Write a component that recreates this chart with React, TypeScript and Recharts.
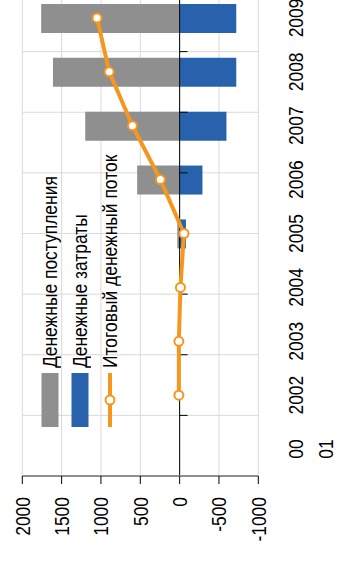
import React from 'react';
import {
  ComposedChart,
  Bar,
  Line,
  XAxis,
  YAxis,
  CartesianGrid,
  ReferenceLine,
  Legend,
} from 'recharts';

// Years on the category axis (the first slot carries a two-line label)
const categories = ['00\n01', '2002', '2003', '2004', '2005', '2006', '2007', '2008', '2009'];
// Cash inflows, outflows and resulting net cash flow per year
const inflows = [0, 0, 0, 0, 30, 540, 1200, 1610, 1760];
const outflows = [0, 0, 0, 0, -80, -290, -595, -720, -720];
const netFlow = [null, 10, 10, -10, -55, 245, 600, 895, 1050];
const valueTicks = [-1000, -500, 0, 500, 1000, 1500, 2000];
const seriesNames = ['Денежные поступления', 'Денежные затраты', 'Итоговый денежный поток'];

const data = categories.map((label, i) => ({
  label,
  inflow: inflows[i],
  outflow: outflows[i],
  net: netFlow[i],
}));

// Category boundaries, used for grid lines and tick marks on the zero line
const boundaries = [...categories.map((_, i) => i), categories.length];

const FONT = "'Liberation Sans', Arial, sans-serif";
const FONT_SIZE = 21;
const NARROW = 0.83; // horizontal squeeze to get a narrow face
const GRAY = '#8f8f8f';
const BLUE = '#2862ad';
const ORANGE = '#f5961f';

const CategoryTick = (props: any) => {
  const { x, y, payload } = props;
  const lines = String(payload.value).split('\n');
  return (
    <text
      transform={`translate(${x},${y}) scale(${NARROW},1)`}
      x={0}
      y={0}
      textAnchor="middle"
      fill="#000"
      fontSize={FONT_SIZE}
      fontFamily={FONT}
    >
      {lines.map((ln, i) => (
        <tspan key={i} x={0} dy={i === 0 ? 45 : 30}>
          {ln}
        </tspan>
      ))}
    </text>
  );
};

const ValueTick = (props: any) => {
  const { x, y, payload } = props;
  return (
    <text
      transform={`translate(${x},${y}) scale(${NARROW},1)`}
      x={0}
      y={0}
      dy="0.355em"
      textAnchor="end"
      fill="#000"
      fontSize={FONT_SIZE}
      fontFamily={FONT}
    >
      {payload.value}
    </text>
  );
};

const ZeroTick = (props: any) => (
  <line x1={props.x1} y1={props.y1} x2={props.x1} y2={props.y1 + 8} stroke="#000" strokeWidth={1} />
);

const LegendContent = (props: any) => {
  const items = [...(props.payload || [])].sort(
    (a: any, b: any) => seriesNames.indexOf(a.value) - seriesNames.indexOf(b.value)
  );
  return (
    <div style={{ fontFamily: FONT, fontSize: FONT_SIZE, color: '#000' }}>
      {items.map((item: any) => (
        <div key={item.value} style={{ display: 'flex', alignItems: 'center', height: 30, whiteSpace: 'nowrap' }}>
          <svg width={54} height={20} style={{ display: 'block', flex: 'none' }}>
            {item.type === 'line' ? (
              <g>
                <line x1={0} y1={10} x2={54} y2={10} stroke={ORANGE} strokeWidth={4} />
                <circle cx={27} cy={10} r={4.5} fill="#fff" stroke={ORANGE} strokeWidth={2} />
              </g>
            ) : (
              <rect x={0} y={1.5} width={54} height={17} fill={item.color} />
            )}
          </svg>
          <span
            style={{
              display: 'inline-block',
              marginLeft: 5,
              lineHeight: '30px',
              transform: `scaleX(${NARROW})`,
              transformOrigin: '0 50%',
            }}
          >
            {item.value}
          </span>
        </div>
      ))}
    </div>
  );
};

export default function App() {
  return (
    <div
      style={{
        position: 'fixed',
        left: 0,
        top: 0,
        width: 337,
        height: 561,
        overflow: 'hidden',
        background: '#fff',
        fontFamily: FONT,
      }}
    >
      <div
        style={{
          position: 'absolute',
          left: 0,
          top: 0,
          width: 575,
          height: 337,
          transformOrigin: '0 0',
          transform: 'translate(0px, 561px) rotate(-90deg)',
        }}
      >
        <ComposedChart
          width={575}
          height={337}
          data={data}
          stackOffset="sign"
          margin={{ top: 22.3, right: 5, bottom: 0, left: 0 }}
        >
          <CartesianGrid xAxisId="grid" stroke="#d9d9d9" strokeWidth={1} />
          <XAxis
            xAxisId="cat"
            dataKey="label"
            type="category"
            height={78.7}
            interval={0}
            axisLine={false}
            tickLine={false}
            tickSize={0}
            tickMargin={0}
            tick={<CategoryTick />}
          />
          <XAxis xAxisId="grid" type="number" domain={[0, categories.length]} ticks={boundaries} hide />
          <YAxis
            width={85}
            domain={[-1000, 2000]}
            ticks={valueTicks}
            interval={0}
            axisLine={{ stroke: GRAY, strokeWidth: 2 }}
            tickLine={{ stroke: '#000' }}
            tickSize={8}
            tickMargin={13}
            tick={<ValueTick />}
          />
          <Legend
            layout="vertical"
            align="center"
            verticalAlign="middle"
            wrapperStyle={{ left: 134, top: 35, width: 'auto' }}
            content={<LegendContent />}
          />
          <Bar
            xAxisId="cat"
            dataKey="inflow"
            name={seriesNames[0]}
            stackId="flow"
            fill={GRAY}
            barSize={29}
            isAnimationActive={false}
          />
          <Bar
            xAxisId="cat"
            dataKey="outflow"
            name={seriesNames[1]}
            stackId="flow"
            fill={BLUE}
            barSize={29}
            isAnimationActive={false}
          />
          <ReferenceLine xAxisId="cat" y={0} stroke="#000" strokeWidth={1} />
          {boundaries.map((b) => (
            <ReferenceLine
              key={b}
              xAxisId="grid"
              segment={[
                { x: b, y: 0 },
                { x: b, y: 0 },
              ]}
              ifOverflow="visible"
              shape={ZeroTick}
            />
          ))}
          <Line
            xAxisId="cat"
            dataKey="net"
            name={seriesNames[2]}
            type="linear"
            stroke={ORANGE}
            strokeWidth={4}
            dot={{ r: 4.5, fill: '#fff', stroke: ORANGE, strokeWidth: 2 }}
            activeDot={false}
            isAnimationActive={false}
          />
        </ComposedChart>
      </div>
    </div>
  );
}
